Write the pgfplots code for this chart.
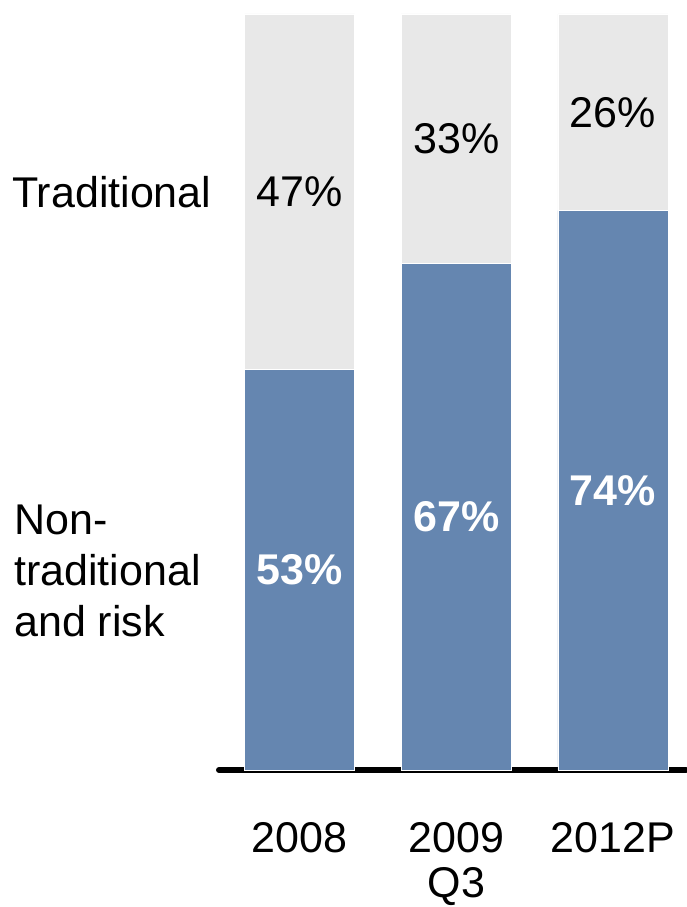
\documentclass[border=0pt]{standalone}
\usepackage{pgfplots}
\pgfplotsset{compat=1.18}
\usepackage{fontspec}
\setmainfont{Liberation Sans}
\definecolor{barblue}{HTML}{6586B0}
\definecolor{bargray}{HTML}{E8E8E8}
\newcommand{\bigf}{\fontsize{43}{47}\selectfont}
\begin{document}
\begin{tikzpicture}[x=1pt,y=1pt]
\useasboundingbox (0,0) rectangle (686,907);
\begin{axis}[
  at={(219pt,137pt)}, anchor=south west,
  scale only axis, width=467pt, height=756pt,
  xmin=-0.5136, xmax=2.466, ymin=0, ymax=100,
  ybar stacked, bar width=110pt,
  axis x line=bottom, axis y line=none,
  x axis line style={line width=6pt, line cap=round, -},
  xtick={0,1,2}, xticklabels={2008,{2009\\Q3},2012P},
  major tick length=0pt,
  xticklabel style={font=\fontsize{43}{45}\selectfont, align=center, anchor=north, inner sep=0pt, yshift=-52pt},
  clip=false,
]
\addplot[fill=barblue, draw=white, line width=0.6pt] coordinates {(0,53) (1,67) (2,74)};
\addplot[fill=bargray, draw=white, line width=0.6pt] coordinates {(0,47) (1,33) (2,26)};
\coordinate (a1) at (axis cs:0,26.5);
\coordinate (a2) at (axis cs:1,33.5);
\coordinate (a3) at (axis cs:2,37);
\coordinate (b1) at (axis cs:0,76.5);
\coordinate (b2) at (axis cs:1,83.5);
\coordinate (b3) at (axis cs:2,87);
\end{axis}
\node[font=\bigf\bfseries, text=white] at (a1) {53\%};
\node[font=\bigf\bfseries, text=white] at (a2) {67\%};
\node[font=\bigf\bfseries, text=white] at (a3) {74\%};
\node[font=\bigf] at (b1) {47\%};
\node[font=\bigf] at (b2) {33\%};
\node[font=\bigf] at (b3) {26\%};
\node[font=\bigf, anchor=base west, inner sep=0pt] at (12,699) {Traditional};
\node[font=\fontsize{43}{51}\selectfont, anchor=base west, inner sep=0pt, align=left] at (14,270) {Non-\\traditional\\and risk};
\end{tikzpicture}
\end{document}
